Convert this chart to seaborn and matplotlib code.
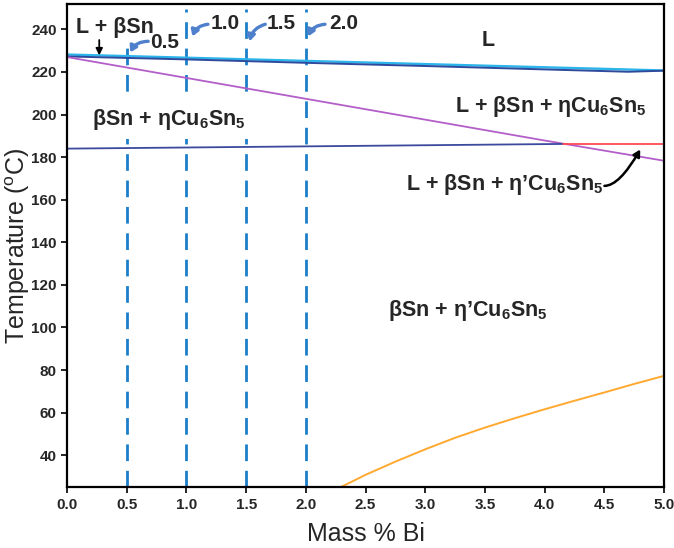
import numpy as np
import pandas as pd
import matplotlib
matplotlib.use("Agg")
import matplotlib.pyplot as plt
import seaborn as sns

# phase boundary lines
liq_x = [0.0, 1.0, 2.0, 3.0, 4.0, 5.0]
liq_t = [228.2, 226.7, 225.2, 223.7, 222.2, 220.7]

liq2_x = [0.0, 1.0, 2.0, 3.0, 4.0, 4.7, 5.0]
liq2_t = [227.3, 225.9, 224.3, 222.8, 221.2, 220.1, 220.6]

sol_x = [0.0, 1.0, 2.0, 3.0, 4.0, 5.0]
sol_t = [227.0, 217.2, 207.4, 197.6, 187.8, 178.3]

eut_x = [0.0, 4.15]
eut_t = [184.0, 186.2]

eut2_x = [4.15, 5.0]
eut2_t = [186.2, 186.2]

solv_x = [2.29, 2.4, 2.5, 2.75, 3.0, 3.25, 3.5, 3.75, 4.0, 4.25, 4.5, 4.75, 5.0]
solv_t = [25.0, 28.0, 30.8, 37.0, 42.8, 48.2, 53.0, 57.4, 61.6, 65.6, 69.5, 73.5, 77.3]

alloys = [0.5, 1.0, 1.5, 2.0]
alloy_top = [231.5, 249.4, 249.4, 249.4]
alloy_labels = ["0.5", "1.0", "1.5", "2.0"]

xticks = [0.0, 0.5, 1.0, 1.5, 2.0, 2.5, 3.0, 3.5, 4.0, 4.5, 5.0]
yticks = [40, 60, 80, 100, 120, 140, 160, 180, 200, 220, 240]

sns.set_style("ticks")
plt.rcParams["font.family"] = ["Liberation Sans", "DejaVu Sans"]
plt.rcParams["mathtext.fontset"] = "custom"
plt.rcParams["mathtext.rm"] = "Liberation Sans"
plt.rcParams["mathtext.bf"] = "Liberation Sans:bold"

fig = plt.figure(figsize=(6.74, 5.48), dpi=100)
ax = fig.add_axes([0.0994, 0.111, 0.886, 0.882])

lines = [
    (liq_x, liq_t, "#2bb5ea", 1.7),
    (liq2_x, liq2_t, "#2f4a9c", 1.4),
    (sol_x, sol_t, "#b35ec9", 1.3),
    (eut_x, eut_t, "#3c4a9e", 1.3),
    (eut2_x, eut2_t, "#ff4a55", 1.3),
    (solv_x, solv_t, "#ffa930", 1.4),
]
for xs, ts, col, lw in lines:
    df = pd.DataFrame({"x": xs, "t": ts})
    sns.lineplot(data=df, x="x", y="t", color=col, lw=lw, ax=ax,
                 sort=False, estimator=None)

for a, top in zip(alloys, alloy_top):
    ax.plot([a, a], [25, top], color="#1c7fc9", lw=2.0, ls=(0, (6, 3.5)),
            zorder=1)

# curved arrow labels for the alloy lines
lab_pos = [(0.695, 233.9), (1.205, 242.8), (1.675, 242.8), (2.2, 242.8)]
tails = [(0.68, 234.4), (1.18, 242.4), (1.66, 242.4), (2.16, 242.4)]
heads = [(0.53, 229.2), (1.05, 236.7), (1.53, 234.4), (2.02, 236.7)]
for lab, (tx, ty), tail, head in zip(alloy_labels, lab_pos, tails, heads):
    ax.annotate("", xy=head, xytext=tail,
                arrowprops=dict(arrowstyle="-|>,head_width=0.22,head_length=0.35",
                                color="#4f80cc", lw=2.4, shrinkA=0, shrinkB=0,
                                connectionstyle="arc3,rad=0.3"))
    ax.text(tx, ty, lab, fontsize=15, fontweight="bold", ha="left",
            va="center")

bold = dict(fontsize=15.5, fontweight="bold", ha="center", va="center")
ax.text(0.40, 241.0, r"L + βSn", **bold)
ax.annotate("", xy=(0.27, 227.8), xytext=(0.27, 235.0),
            arrowprops=dict(arrowstyle="-|>,head_width=0.2,head_length=0.4",
                            color="black", lw=1.3, shrinkA=0, shrinkB=0))
ax.text(3.53, 235.0, "L", **bold)
ax.text(4.05, 203.8, r"L + βSn + ηCu$_\mathbf{6}$Sn$_\mathbf{5}$", **bold)
ax.text(0.855, 197.6, r"βSn + ηCu$_\mathbf{6}$Sn$_\mathbf{5}$",
        bbox=dict(fc="white", ec="none", pad=5), zorder=3, **bold)
ax.text(3.66, 167.0, r"L + βSn + η’Cu$_\mathbf{6}$Sn$_\mathbf{5}$", **bold)
ax.text(3.355, 108.0, r"βSn + η’Cu$_\mathbf{6}$Sn$_\mathbf{5}$", **bold)
ax.annotate("", xy=(4.8, 183.6), xytext=(4.5, 166.5),
            arrowprops=dict(arrowstyle="-|>,head_width=0.22,head_length=0.4",
                            color="black", lw=1.8, shrinkA=0, shrinkB=0,
                            connectionstyle="angle3,angleA=0,angleB=60"))

ax.set_xlim(0, 5.0)
ax.set_ylim(25, 252)
ax.set_xticks(xticks)
ax.set_xticklabels([f"{v:.1f}" for v in xticks])
ax.set_yticks(yticks)
for lbl in ax.get_xticklabels() + ax.get_yticklabels():
    lbl.set_fontweight("bold")
    lbl.set_fontsize(11)
ax.tick_params(length=4, width=1.2, color="black")
for sp in ax.spines.values():
    sp.set_visible(True)
    sp.set_linewidth(1.6)
    sp.set_color("black")

ax.set_xlabel("Mass % Bi", fontsize=18)
ax.set_ylabel(r"Temperature ($^{\mathrm{o}}$C)", fontsize=18)
ax.xaxis.set_label_coords(0.5, -0.072)
ax.yaxis.set_label_coords(-0.058, 0.5)

fig.savefig("out.png", dpi=100)
